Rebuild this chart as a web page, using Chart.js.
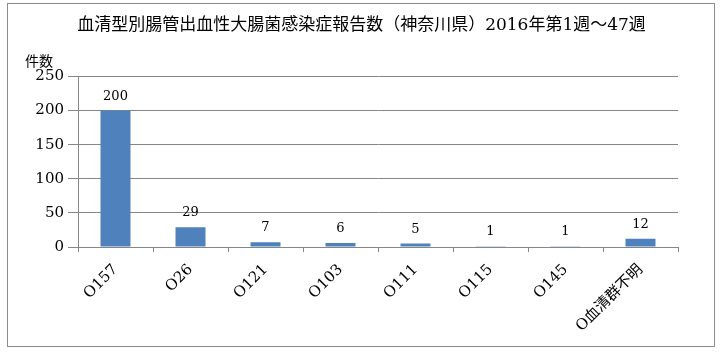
<!DOCTYPE html>
<html>
<head>
<meta charset="utf-8">
<script src="https://cdn.jsdelivr.net/npm/chart.js@4"></script>
<style>
  html, body { margin: 0; padding: 0; background: #fff; }
  #wrap { position: relative; width: 723px; height: 353px; }
  #frame { position: absolute; left: 7px; top: 3px; width: 706px; height: 342px; border: 1px solid #8c8c8c; pointer-events: none; }
</style>
</head>
<body>
<div id="wrap">
  <canvas id="grafico" width="723" height="353"></canvas>
  <div id="frame"></div>
</div>
<script>
const titolo = '血清型別腸管出血性大腸菌感染症報告数（神奈川県）2016年第1週～47週';
const etichettaY = '件数';
const categorie = ['O157', 'O26', 'O121', 'O103', 'O111', 'O115', 'O145', 'O血清群不明'];
const valori = [200, 29, 7, 6, 5, 1, 1, 12];
const tickY = [0, 50, 100, 150, 200, 250];

const FONT_NUM = "'DejaVu Serif', 'Noto Sans CJK JP', serif";
const GRIGIO = '#868686';

Chart.defaults.color = '#000';

// etichette dei valori sopra le barre + "件数"
const etichette = {
    id: 'etichette',
    afterDatasetsDraw(chart) {
        const c = chart.ctx;
        c.save();
        c.fillStyle = '#000';
        c.font = "13px " + FONT_NUM;
        c.textAlign = 'center';
        c.textBaseline = 'alphabetic';
        chart.getDatasetMeta(0).data.forEach((bar, i) => {
            c.fillText(String(valori[i]), bar.x, bar.y - 11);
        });
        c.font = "14px 'Noto Sans CJK JP'";
        c.textAlign = 'left';
        c.textBaseline = 'middle';
        c.fillText(etichettaY, chart.chartArea.left - 53, chart.chartArea.top - 16);
        c.restore();
    }
};

new Chart(document.getElementById('grafico').getContext('2d'), {
    type: 'bar',
    data: {
        labels: categorie,
        datasets: [{
            data: valori,
            backgroundColor: '#4F81BD',
            borderWidth: 0,
            barPercentage: 0.4,
            categoryPercentage: 1
        }]
    },
    options: {
        responsive: false,
        animation: false,
        layout: { padding: 0 },
        plugins: {
            legend: { display: false },
            tooltip: { enabled: false },
            title: {
                display: true,
                text: titolo,
                color: '#000',
                font: { family: FONT_NUM, size: 17, weight: 'normal' },
                padding: { top: 15, bottom: 41 }
            }
        },
        scales: {
            y: {
                min: 0,
                max: 250,
                afterBuildTicks(scale) {
                    scale.ticks = tickY.map(v => ({ value: v }));
                },
                afterFit(scale) { scale.width = 78; },
                grid: { color: GRIGIO, tickLength: 10, drawOnChartArea: true },
                border: { color: GRIGIO },
                ticks: { padding: 4, font: { family: FONT_NUM, size: 15 } }
            },
            // asse vuoto a destra, solo per lo spazio
            destra: {
                position: 'right',
                display: true,
                grid: { display: false, drawTicks: false },
                border: { display: false },
                ticks: { display: false },
                afterFit(scale) { scale.width = 45; }
            },
            x: {
                afterFit(scale) { scale.height = 106; },
                grid: { color: GRIGIO, offset: true, drawOnChartArea: false, tickLength: 5 },
                border: { color: GRIGIO },
                ticks: {
                    minRotation: 45,
                    maxRotation: 45,
                    padding: 9,
                    font: { family: FONT_NUM, size: 15 }
                }
            }
        }
    },
    plugins: [etichette]
});
</script>
</body>
</html>
